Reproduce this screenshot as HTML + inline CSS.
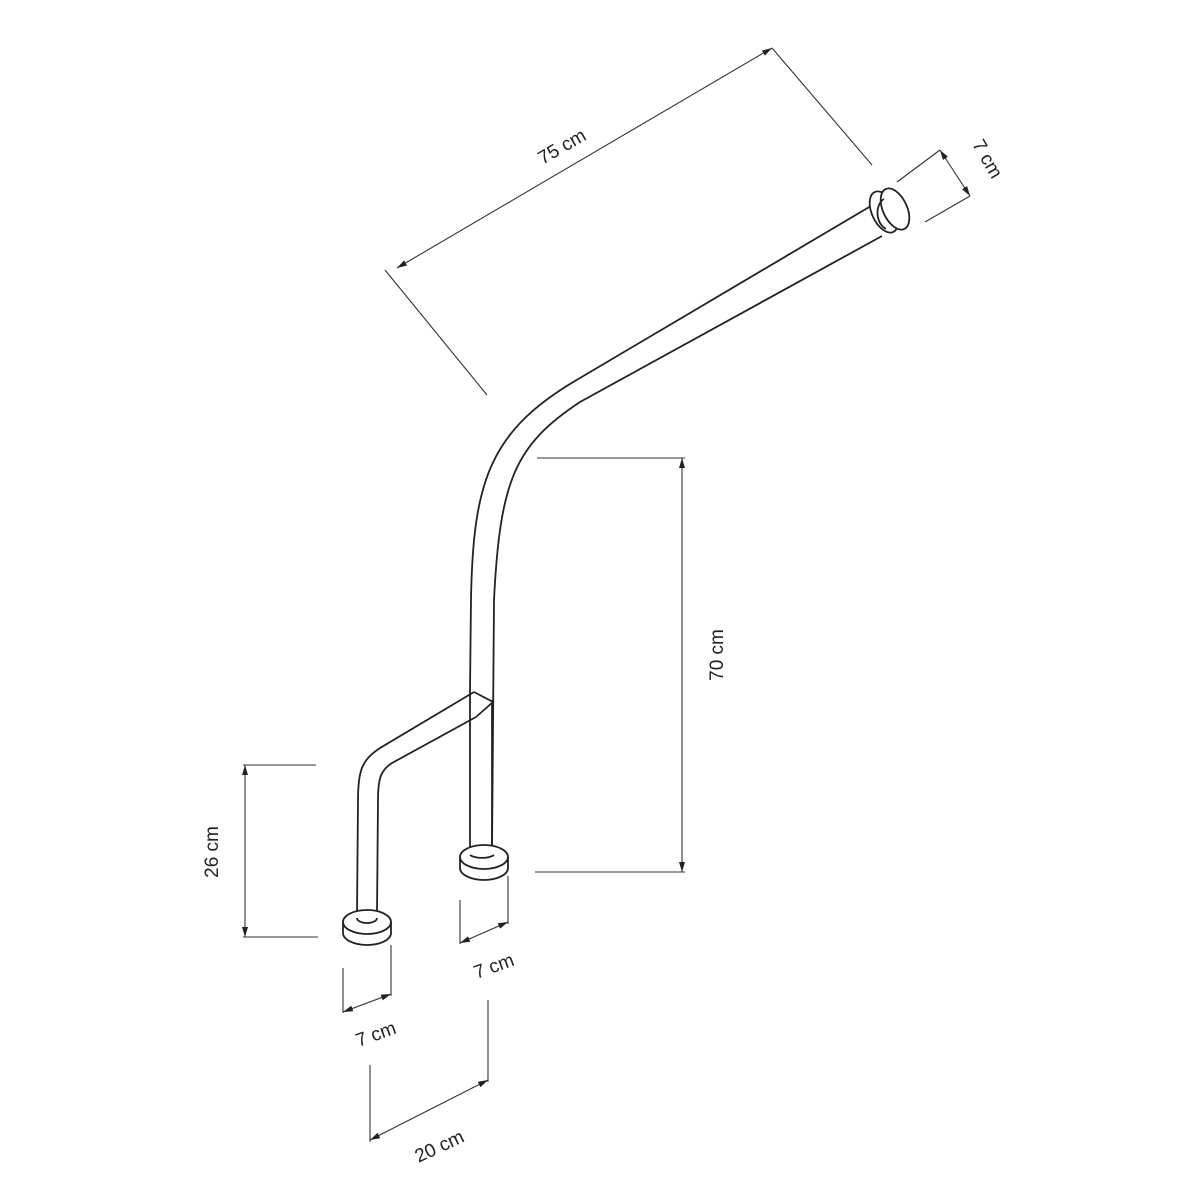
<!DOCTYPE html>
<html><head><style>body{margin:0;background:#fff}svg{display:block}text{font-family:"Liberation Sans",sans-serif;font-size:19px;fill:#222}</style></head>
<body>
<svg width="1200" height="1200" viewBox="0 0 1200 1200" xmlns="http://www.w3.org/2000/svg">
<defs><marker id="a" viewBox="0 0 10 6" refX="10" refY="3" markerWidth="10" markerHeight="6" orient="auto-start-reverse" markerUnits="userSpaceOnUse"><path d="M0,0L10,3L0,6z" fill="#222"/></marker></defs>
<g fill="none" stroke="#222" stroke-width="1.8">
<path d="M470,690 L471,600 C473,480 490,430 580,378 L876,203"/>
<path d="M492,852 L494,600 C500,480 515,445 580,402 L882,236"/>
<path d="M492,852 L492,700"/>
<path d="M470,690 L470,855"/>
<path d="M474,692 L493,702 L476,717"/>
<path d="M474,692 L380,748 C362,760 358,770 358,800 L357,915"/>
<path d="M476,717 L392,763 C381,770 378,778 378,800 L377,913"/>
<ellipse cx="484" cy="857" rx="24" ry="12" fill="#fff"/>
<path d="M460,857 L460,868 A24,12 0 0 0 508,868 L508,857"/>
<path d="M470,855 A14,6 0 0 0 494,855"/>
<ellipse cx="367" cy="922" rx="24" ry="12" fill="#fff"/>
<path d="M343,922 L343,933 A24,12 0 0 0 391,933 L391,922"/>
<path d="M357,918 A10,5 0 0 0 377,918"/>
<ellipse cx="884" cy="212" rx="12" ry="22" transform="rotate(-25 884 212)" fill="#fff"/>
<ellipse cx="895" cy="209" rx="12" ry="22" transform="rotate(-25 895 209)" fill="#fff"/>
<path d="M884,199 C876,203 874,222 886,229"/>
</g>
<g fill="none" stroke="#333" stroke-width="1.1">
<line x1="385" y1="270" x2="487" y2="395"/><line x1="772" y1="48" x2="872" y2="165"/>
<line x1="397" y1="268" x2="772" y2="48" marker-start="url(#a)" marker-end="url(#a)"/>
<line x1="897" y1="182" x2="940" y2="150"/><line x1="925" y1="222" x2="970" y2="196"/>
<line x1="940" y1="150" x2="970" y2="196" marker-start="url(#a)" marker-end="url(#a)"/>
<line x1="537" y1="458" x2="685" y2="458"/><line x1="535" y1="872" x2="685" y2="872"/>
<line x1="682" y1="458" x2="682" y2="872" marker-start="url(#a)" marker-end="url(#a)"/>
<line x1="243" y1="765" x2="316" y2="765"/><line x1="243" y1="937" x2="318" y2="937"/>
<line x1="245" y1="765" x2="245" y2="937" marker-start="url(#a)" marker-end="url(#a)"/>
<line x1="343" y1="968" x2="343" y2="1013"/><line x1="391" y1="945" x2="391" y2="996"/>
<line x1="343" y1="1012" x2="391" y2="994" marker-start="url(#a)" marker-end="url(#a)"/>
<line x1="460" y1="900" x2="460" y2="944"/><line x1="508" y1="876" x2="508" y2="924"/>
<line x1="460" y1="943" x2="508" y2="922" marker-start="url(#a)" marker-end="url(#a)"/>
<line x1="370" y1="1065" x2="370" y2="1142"/><line x1="488" y1="1000" x2="488" y2="1082"/>
<line x1="370" y1="1140" x2="488" y2="1080" marker-start="url(#a)" marker-end="url(#a)"/>
</g>
<text x="565" y="152" text-anchor="middle" transform="rotate(-30 565 152)">75 cm</text>
<text x="982" y="162" text-anchor="middle" transform="rotate(60 982 162)">7 cm</text>
<text x="723" y="655" text-anchor="middle" transform="rotate(-90 723 655)">70 cm</text>
<text x="218" y="852" text-anchor="middle" transform="rotate(-90 218 852)">26 cm</text>
<text x="378" y="1040" text-anchor="middle" transform="rotate(-20 378 1040)">7 cm</text>
<text x="496" y="972" text-anchor="middle" transform="rotate(-20 496 972)">7 cm</text>
<text x="442" y="1152" text-anchor="middle" transform="rotate(-25 442 1152)">20 cm</text>
</svg>
</body></html>
